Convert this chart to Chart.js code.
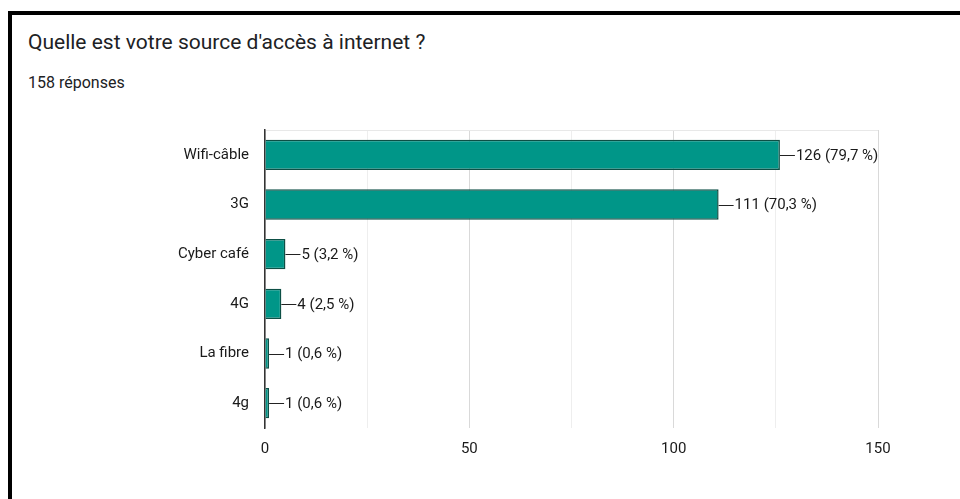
<!DOCTYPE html>
<html>
<head>
<meta charset="utf-8">
<script src="https://cdn.jsdelivr.net/npm/chart.js@4.4.1/dist/chart.umd.min.js"></script>
<style>
    html, body { margin: 0; padding: 0; background: #fff; overflow: hidden; }
    #frame {
        position: absolute; left: 8px; top: 11px; width: 1000px; height: 520px;
        border-left: 4px solid #000; border-top: 4px solid #000;
    }
    #chartTitle {
        position: absolute; left: 28px; top: 30px; margin: 0;
        font: 21px Roboto, sans-serif; color: #202124; white-space: nowrap;
    }
    #chartSubtitle {
        position: absolute; left: 28px; top: 73px; margin: 0;
        font: 16px Roboto, sans-serif; color: #202124; white-space: nowrap;
    }
    #chartWrap { position: absolute; left: 0; top: 0; width: 960px; height: 499px; }
</style>
</head>
<body>
<div id="frame"></div>
<div id="chartTitle">Quelle est votre source d'accès à internet ?</div>
<div id="chartSubtitle"></div>
<div id="chartWrap"><canvas id="accessChart"></canvas></div>
<script>
// Survey answers
const responseCount = 158;
const sourceLabels = ['Wifi-câble', '3G', 'Cyber café', '4G', 'La fibre', '4g'];
const sourceValues = [126, 111, 5, 4, 1, 1];
const axisTicks = [0, 50, 100, 150];

document.getElementById('chartSubtitle').textContent = responseCount + ' réponses';

// "—126 (79,7 %)" after each bar
const valueLabelPlugin = {
    id: 'valueLabels',
    afterDatasetsDraw(chart) {
        const ctx = chart.ctx;
        const meta = chart.getDatasetMeta(0);
        ctx.save();
        ctx.font = '15px Roboto, sans-serif';
        ctx.textBaseline = 'middle';
        ctx.textAlign = 'left';
        meta.data.forEach((bar, i) => {
            const value = sourceValues[i];
            const pct = (value / responseCount * 100).toFixed(1).replace('.', ',');
            const x = bar.x;
            const y = bar.y;
            ctx.strokeStyle = '#222';
            ctx.lineWidth = 1;
            ctx.beginPath();
            ctx.moveTo(x, Math.round(y) + 0.5);
            ctx.lineTo(x + 15, Math.round(y) + 0.5);
            ctx.stroke();
            ctx.fillStyle = '#1a1a1a';
            ctx.fillText(value + ' (' + pct + ' %)', x + 16, y + 1);
        });
        ctx.restore();
    }
};

new Chart(document.getElementById('accessChart'), {
    type: 'bar',
    data: {
        labels: sourceLabels,
        datasets: [{
            data: sourceValues,
            backgroundColor: '#009688',
            borderColor: '#0d4f45',
            borderWidth: 1.5,
            borderSkipped: 'left',
            barPercentage: 0.61,
            categoryPercentage: 1.0
        }]
    },
    options: {
        indexAxis: 'y',
        responsive: true,
        maintainAspectRatio: false,
        animation: false,
        layout: { padding: { top: 130, right: 82, bottom: 31, left: 0 } },
        plugins: { legend: { display: false }, tooltip: { enabled: false } },
        scales: {
            x: {
                min: 0,
                max: 150,
                afterFit(scale) { scale.height = 40; },
                afterBuildTicks(scale) {
                    scale.ticks = [0, 25, 50, 75, 100, 125, 150].map(v => ({ value: v }));
                },
                grid: {
                    drawTicks: false,
                    color: c => (c.tick && c.tick.value % 50 === 0) ? '#d9d9d9' : '#eeeeee',
                    lineWidth: 1
                },
                border: { display: false },
                ticks: {
                    padding: 12,
                    color: '#1a1a1a',
                    font: { family: 'Roboto, sans-serif', size: 15 },
                    callback: v => axisTicks.includes(v) ? String(v) : ''
                }
            },
            y: {
                afterFit(scale) { scale.width = 265; },
                grid: {
                    drawTicks: false,
                    color: c => (c.index === 0 || c.index === sourceLabels.length) ? '#e8e8e8' : 'transparent'
                },
                border: { display: true, color: '#333', width: 1.5 },
                ticks: {
                    padding: 16,
                    color: '#1a1a1a',
                    font: { family: 'Roboto, sans-serif', size: 15 }
                }
            }
        }
    },
    plugins: [valueLabelPlugin]
});
</script>
</body>
</html>
